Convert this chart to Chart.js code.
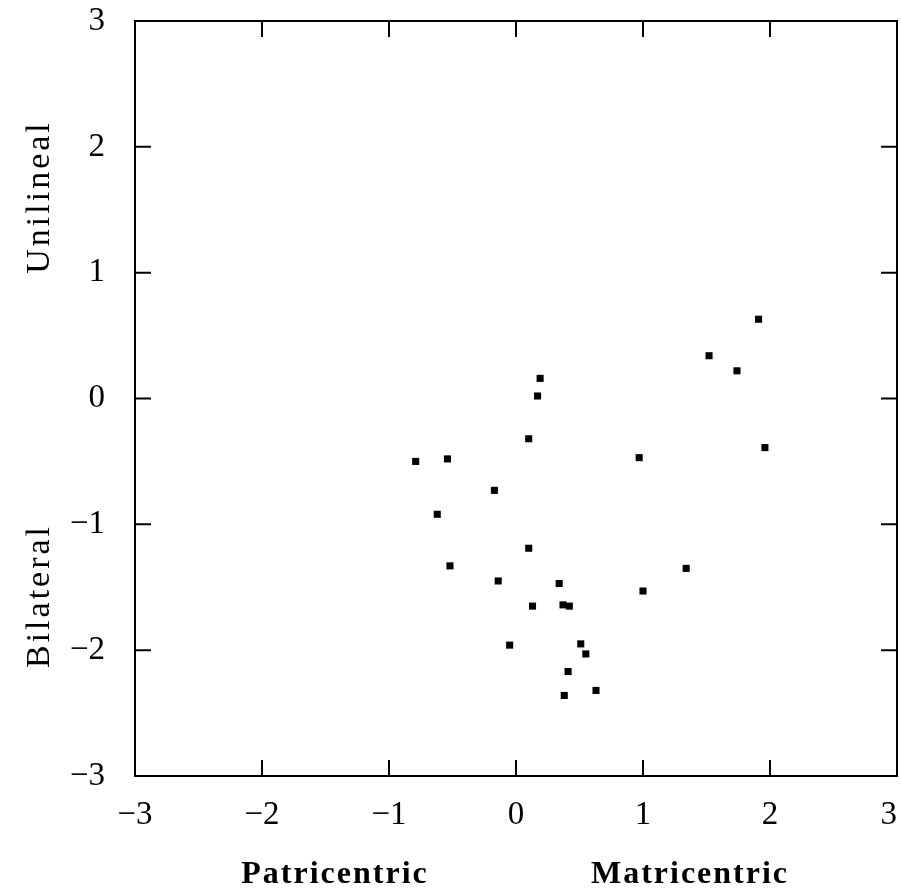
<!DOCTYPE html>
<html>
<head>
<meta charset="utf-8">
<script src="https://cdn.jsdelivr.net/npm/chart.js@4.4.1/dist/chart.umd.min.js"></script>
<style>
  html, body { margin: 0; padding: 0; background: #fff; }
  #wrap { width: 901px; height: 894px; position: relative; }
</style>
</head>
<body>
<div id="wrap"><canvas id="scatter"></canvas></div>
<script>
// Data
const xValues = [0.19, 0.17, 0.10, -0.79, -0.54, 0.97, -0.17, -0.62, 0.10, -0.52, -0.14, 0.34, 1.34, 1.00,
  0.13, 0.37, 0.42, -0.05, 0.51, 0.55, 0.41, 0.38, 0.63, 1.91, 1.52, 1.74, 1.96];
const yValues = [0.16, 0.02, -0.32, -0.50, -0.48, -0.47, -0.73, -0.92, -1.19, -1.33, -1.45, -1.47, -1.35, -1.53,
  -1.65, -1.64, -1.65, -1.96, -1.95, -2.03, -2.17, -2.36, -2.32, 0.63, 0.34, 0.22, -0.39];
const tickValues = [-3, -2, -1, 0, 1, 2, 3];
const xTitles = ['Patricentric', 'Matricentric'];
const yTitles = ['Unilineal', 'Bilateral'];

const serif = '"Liberation Serif", "Times New Roman", serif';

const points = xValues.map((x, i) => ({ x: x, y: yValues[i] }));

// frame + inward ticks on all four sides + the side titles
const framePlugin = {
  id: 'frame',
  afterDraw(chart) {
    const ctx = chart.ctx;
    const a = chart.chartArea;
    const xs = chart.scales.x;
    const ys = chart.scales.y;
    const len = 16;
    ctx.save();
    ctx.strokeStyle = '#000';
    ctx.lineWidth = 2;
    ctx.strokeRect(a.left, a.top, a.right - a.left, a.bottom - a.top);
    ctx.beginPath();
    tickValues.forEach(v => {
      const px = xs.getPixelForValue(v);
      ctx.moveTo(px, a.bottom); ctx.lineTo(px, a.bottom - len);
      ctx.moveTo(px, a.top); ctx.lineTo(px, a.top + len);
      const py = ys.getPixelForValue(v);
      ctx.moveTo(a.left, py); ctx.lineTo(a.left + len, py);
      ctx.moveTo(a.right, py); ctx.lineTo(a.right - len, py);
    });
    ctx.stroke();

    // titles
    ctx.fillStyle = '#000';
    ctx.font = 'bold 32px ' + serif;
    ctx.letterSpacing = '2px';
    ctx.textAlign = 'center';
    ctx.textBaseline = 'alphabetic';
    ctx.fillText(xTitles[0], 335, 883);
    ctx.fillText(xTitles[1], 690, 883);

    ctx.font = '34px ' + serif;
    ctx.letterSpacing = '3px';
    ctx.textBaseline = 'middle';
    ctx.save();
    ctx.translate(40, 197);
    ctx.rotate(-Math.PI / 2);
    ctx.fillText(yTitles[0], 0, 0);
    ctx.restore();
    ctx.save();
    ctx.translate(40, 596);
    ctx.rotate(-Math.PI / 2);
    ctx.fillText(yTitles[1], 0, 0);
    ctx.restore();
    ctx.restore();
  }
};

const fmt = v => (v < 0 ? '\u2212' + Math.abs(v) : String(v));
// last x label sits a little left of its tick so it stays inside the page
const fmtX = v => (v === 3 ? '3\u2002' : fmt(v));

const noPad = s => {
  s.paddingTop = 0;
  s.paddingBottom = 0;
  s.paddingLeft = 0;
  s.paddingRight = 0;
};

new Chart(document.getElementById('scatter').getContext('2d'), {
  type: 'scatter',
  data: {
    datasets: [{
      data: points,
      pointStyle: 'rect',
      pointRadius: 5,
      pointHoverRadius: 5,
      borderWidth: 0,
      backgroundColor: '#000'
    }]
  },
  options: {
    responsive: true,
    maintainAspectRatio: false,
    animation: false,
    layout: { autoPadding: false, padding: { left: 0, top: 21, right: 4, bottom: 0 } },
    plugins: { legend: { display: false }, tooltip: { enabled: false } },
    scales: {
      x: {
        type: 'linear',
        min: -3, max: 3,
        afterFit: s => { s.height = 118; noPad(s); },
        afterBuildTicks: s => { s.ticks = tickValues.map(v => ({ value: v })); },
        grid: { display: false, drawTicks: false },
        border: { display: false },
        ticks: { padding: 20, color: '#000', font: { family: serif, size: 33 }, callback: fmtX, maxRotation: 0 }
      },
      y: {
        type: 'linear',
        min: -3, max: 3,
        afterFit: s => { s.width = 135; noPad(s); },
        afterBuildTicks: s => { s.ticks = tickValues.map(v => ({ value: v })); },
        grid: { display: false, drawTicks: false },
        border: { display: false },
        ticks: { padding: 30, color: '#000', font: { family: serif, size: 33 }, callback: fmt }
      }
    }
  },
  plugins: [framePlugin]
});
</script>
</body>
</html>
